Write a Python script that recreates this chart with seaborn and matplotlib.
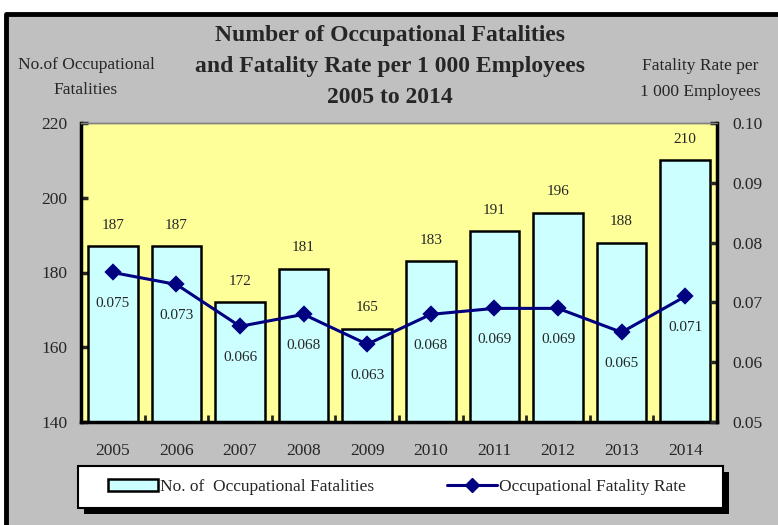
import matplotlib
matplotlib.use("Agg")
import matplotlib.pyplot as plt
from matplotlib.patches import Rectangle, Patch
from matplotlib.lines import Line2D
import seaborn as sns
import pandas as pd

years = ["2005", "2006", "2007", "2008", "2009", "2010", "2011", "2012", "2013", "2014"]
fatalities = [187, 187, 172, 181, 165, 183, 191, 196, 188, 210]
rates = [0.075, 0.073, 0.066, 0.068, 0.063, 0.068, 0.069, 0.069, 0.065, 0.071]

df = pd.DataFrame({"Year": years, "Fatalities": fatalities, "Rate": rates})

sns.set_style("ticks")
plt.rcParams["font.family"] = ["Liberation Serif", "DejaVu Serif"]

W, H = 778, 525
fig = plt.figure(figsize=(7.78, 5.25), dpi=100)
fig.patch.set_facecolor("white")

# grey panel with thick black top/left border
fig.patches.append(Rectangle((7 / W, 0), 1, 1 - 14 / H, transform=fig.transFigure,
                             facecolor="#C0C0C0", edgecolor="none", zorder=-10))
fig.lines.append(Line2D([7 / W, 1], [1 - 13.5 / H] * 2, transform=fig.transFigure,
                        color="black", lw=3.5))
fig.lines.append(Line2D([6.5 / W] * 2, [0, 1 - 13.5 / H], transform=fig.transFigure,
                        color="black", lw=3.5))

ax = fig.add_axes([81 / W, 103 / H, 636 / W, 299 / H])
ax.set_facecolor("#FFFF99")
sns.barplot(data=df, x="Year", y="Fatalities", ax=ax, color="#CCFFFF", saturation=1,
            edgecolor="black", linewidth=1.8, width=0.78)
ax.set_ylim(140, 220)
ax.set_yticks([140, 160, 180, 200, 220])

ax2 = ax.twinx()
sns.pointplot(data=df, x="Year", y="Rate", ax=ax2, color="#000080", markers="D",
              markersize=7, linewidth=2.2, errorbar=None)
ax2.set_ylim(0.05, 0.10)
ax2.set_yticks([0.05, 0.06, 0.07, 0.08, 0.09, 0.10])
ax2.set_yticklabels([f"{t:.2f}" for t in [0.05, 0.06, 0.07, 0.08, 0.09, 0.10]])
ax.set_xlim(-0.5, 9.5)

for i, v in enumerate(fatalities):
    ax.annotate(str(v), (i, v), xytext=(0, 15), textcoords="offset points",
                ha="center", va="center", fontsize=11)
for i, r in enumerate(rates):
    ax2.annotate(f"{r:.3f}", (i, r), xytext=(0, -22.5), textcoords="offset points",
                 ha="center", va="center", fontsize=11)

for a in (ax, ax2):
    a.set_xlabel("")
    a.set_ylabel("")
    a.spines["top"].set_color("#808080")
    a.spines["top"].set_linewidth(1)
ax.spines["right"].set_visible(False)
ax2.spines["left"].set_visible(False)
ax2.spines["bottom"].set_visible(False)
for s in ("left", "bottom"):
    ax.spines[s].set_color("black")
    ax.spines[s].set_linewidth(2.5)
ax2.spines["right"].set_color("black")
ax2.spines["right"].set_linewidth(2.5)

ax.tick_params(axis="y", direction="in", length=5, width=2.5, pad=10, labelsize=12.5)
ax2.tick_params(axis="y", direction="in", length=5, width=2.5, pad=11, labelsize=12.5)
ax.tick_params(axis="x", which="major", length=0, pad=15, labelsize=12.5)
ax.set_xticks([i + 0.5 for i in range(9)], minor=True)
ax.tick_params(axis="x", which="minor", direction="in", length=5, width=2)

fig.text(390 / W, 1 - 66.5 / H,
         "Number of Occupational Fatalities\nand Fatality Rate per 1 000 Employees\n2005 to 2014",
         ha="center", va="center", fontsize=17, fontweight="bold", linespacing=1.6)
fig.text(86 / W, 1 - 77.5 / H, "No.of Occupational\nFatalities", ha="center", va="center",
         fontsize=12.5, linespacing=1.75)
fig.text(700 / W, 1 - 79 / H, "Fatality Rate per\n1 000 Employees", ha="center", va="center",
         fontsize=12.5, linespacing=1.75)

# legend box with hard shadow, drawn by hand
bx0, by0, bw, bh = 78 / W, 1 - 508 / H, 645 / W, 42 / H
fig.patches.append(Rectangle((bx0 + 6 / W, by0 - 6 / H), bw, bh, transform=fig.transFigure,
                             facecolor="black", edgecolor="none", zorder=1))
fig.patches.append(Rectangle((bx0, by0), bw, bh, transform=fig.transFigure,
                             facecolor="white", edgecolor="black", linewidth=1.5, zorder=2))
handles = [Patch(facecolor="#CCFFFF", edgecolor="black", linewidth=1.8),
           Line2D([], [], color="#000080", marker="D", markersize=7, linewidth=2.2)]
leg = fig.legend(handles, ["No. of  Occupational Fatalities", "Occupational Fatality Rate"],
                 loc="center", bbox_to_anchor=(108 / W, by0, (686 - 108) / W, bh),
                 mode="expand", ncol=2, frameon=False, borderaxespad=0, borderpad=0,
                 fontsize=12.5, handlelength=2.9, handletextpad=0.1)
leg.set_zorder(5)

fig.savefig("out.png", dpi=100)
